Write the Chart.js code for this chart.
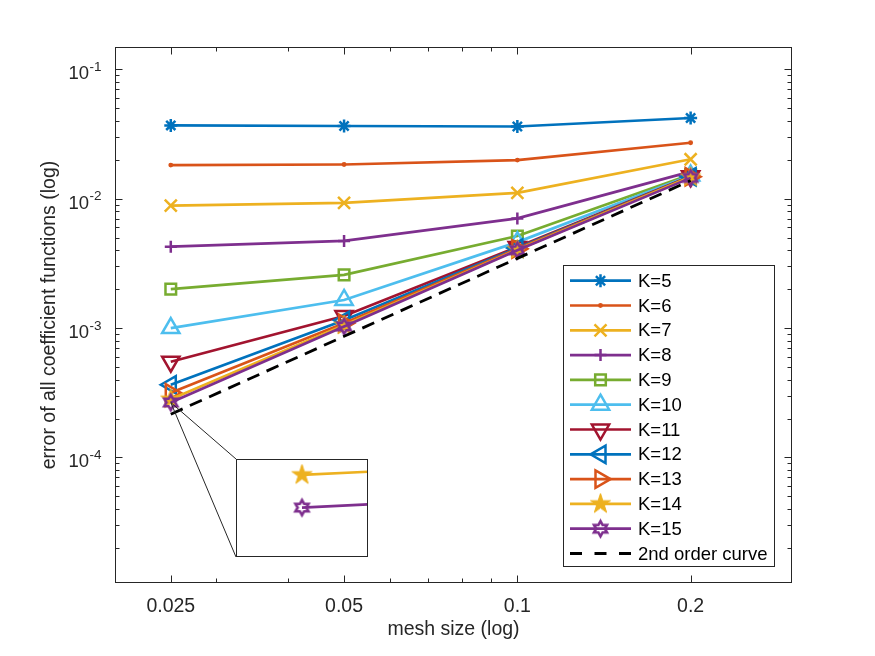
<!DOCTYPE html>
<html>
<head>
<meta charset="utf-8">
<script src="https://cdn.jsdelivr.net/npm/chart.js@4.4.1/dist/chart.umd.min.js"></script>
<style>
  body { margin: 0; background: #fff; }
  #wrap { position: relative; width: 875px; height: 656px; }
  #main { position: absolute; left: 0; top: 0; }
  #inset { position: absolute; }
</style>
</head>
<body>
<div id="wrap">
  <canvas id="main" width="875" height="656"></canvas>
  <canvas id="inset" width="132" height="98"></canvas>
</div>
<script>
// mesh sizes (x) and errors per K (y)
const meshSizes = [0.025, 0.05, 0.1, 0.2];
const errK5  = [0.0369, 0.0365, 0.0362, 0.0421];
const errK6  = [0.0182, 0.0184, 0.0199, 0.0271];
const errK7  = [0.00885, 0.00929, 0.0111, 0.0202];
const errK8  = [0.00426, 0.00472, 0.00705, 0.0162];
const errK9  = [0.00200, 0.00258, 0.00515, 0.0154];
const errK10 = [0.00100, 0.00165, 0.00462, 0.0151];
const errK11 = [0.00055, 0.00124, 0.00424, 0.0149];
const errK12 = [0.000365, 0.00115, 0.00416, 0.0148];
const errK13 = [0.000316, 0.00109, 0.00410, 0.0148];
const errK14 = [0.000282, 0.00105, 0.00404, 0.0147];
const errK15 = [0.000266, 0.00103, 0.00400, 0.0145];
const secondOrder = [0.000216, 0.000864, 0.00346, 0.01382];

const xTickLabels = [0.025, 0.05, 0.1, 0.2];
const xMinorTicks = [0.03, 0.04, 0.06, 0.07, 0.08, 0.09];
const yTickExponents = [-4, -3, -2, -1];

const FONT = "'Liberation Sans', Arial, Helvetica, sans-serif";
const AXIS = '#262626';
const insetBox = { left: 236, top: 459, width: 132, height: 98 };

// pentagram / hexagram markers (not built into Chart.js)
function starMarker(n, outer, inner, color, filled, lw) {
  const s = Math.ceil(2 * outer + 6);
  const c = document.createElement('canvas');
  c.width = s; c.height = s;
  const g = c.getContext('2d');
  g.beginPath();
  for (let i = 0; i < 2 * n; i++) {
    const r = i % 2 ? inner : outer;
    const a = -Math.PI / 2 + i * Math.PI / n;
    const px = s / 2 + r * Math.cos(a), py = s / 2 + r * Math.sin(a);
    if (i) g.lineTo(px, py); else g.moveTo(px, py);
  }
  g.closePath();
  if (filled) { g.fillStyle = color; g.fill(); }
  g.strokeStyle = color;
  g.lineWidth = lw;
  g.stroke();
  return c;
}

const pentagram = starMarker(5, 10.5, 4.0, '#EDB120', true, 1);
const hexagram = starMarker(6, 7.5, 4.3, '#7E2F8E', false, 2.6);

function series(label, data, color, style, radius, rotation) {
  return {
    label: label,
    data: data,
    borderColor: color,
    borderWidth: 2.7,
    pointStyle: style,
    pointRadius: radius,
    pointRotation: rotation || 0,
    pointBorderColor: color,
    pointBackgroundColor: style === 'circle' ? color : 'rgba(0,0,0,0)',
    pointBorderWidth: 2.5,
    fill: false
  };
}

const datasets = [
  series('K=5', errK5, '#0072BD', 'star', 6.5),
  series('K=6', errK6, '#D95319', 'circle', 1.2),
  series('K=7', errK7, '#EDB120', 'crossRot', 8.5),
  series('K=8', errK8, '#7E2F8E', 'cross', 6),
  series('K=9', errK9, '#77AC30', 'rect', 7.5),
  series('K=10', errK10, '#4DBEEE', 'triangle', 10),
  series('K=11', errK11, '#A2142F', 'triangle', 10, 180),
  series('K=12', errK12, '#0072BD', 'triangle', 10, 270),
  series('K=13', errK13, '#D95319', 'triangle', 10, 90),
  series('K=14', errK14, '#EDB120', pentagram, 10),
  series('K=15', errK15, '#7E2F8E', hexagram, 8),
  {
    label: '2nd order curve',
    data: secondOrder,
    borderColor: '#000',
    borderWidth: 2.8,
    borderDash: [13, 8],
    pointRadius: 0,
    fill: false
  }
];
// MATLAB draws later lines on top
datasets.forEach((d, i) => { d.order = datasets.length - i; });

function line(ctx, x1, y1, x2, y2) {
  ctx.beginPath(); ctx.moveTo(x1, y1); ctx.lineTo(x2, y2); ctx.stroke();
}

const axesBox = {
  id: 'axesBox',
  beforeDatasetsDraw(chart) {
    const ctx = chart.ctx, a = chart.chartArea;
    const xs = chart.scales.x, ys = chart.scales.y;
    const L = Math.round(a.left) + 0.5, R = Math.round(a.right) - 0.5;
    const T = Math.round(a.top) + 0.5, B = Math.round(a.bottom) - 0.5;
    ctx.save();
    ctx.strokeStyle = AXIS;
    ctx.lineWidth = 1;
    ctx.strokeRect(L, T, R - L, B - T);

    const xt = (v, len) => {
      const p = Math.round(xs.getPixelForValue(v)) + 0.5;
      line(ctx, p, B, p, B - len);
      line(ctx, p, T, p, T + len);
    };
    xTickLabels.forEach(v => xt(v, 7));
    xMinorTicks.forEach(v => xt(v, 4));

    const yt = (v, len) => {
      const p = Math.round(ys.getPixelForValue(v)) + 0.5;
      line(ctx, L, p, L + len, p);
      line(ctx, R, p, R - len, p);
    };
    for (let e = -5; e <= -1; e++) {
      for (let m = 1; m <= 9; m++) {
        const v = m * Math.pow(10, e);
        if (v < ys.min || v > ys.max) continue;
        yt(v, m === 1 ? 7 : 4);
      }
    }

    // y tick labels 10^e
    ctx.fillStyle = AXIS;
    ctx.textBaseline = 'alphabetic';
    yTickExponents.forEach(e => {
      const p = ys.getPixelForValue(Math.pow(10, e));
      ctx.font = '18.5px ' + FONT;
      ctx.textAlign = 'right';
      ctx.fillText('10', 89, p + 10);
      ctx.font = '13.5px ' + FONT;
      ctx.textAlign = 'left';
      ctx.fillText(String(e), 89.5, p + 1.5);
    });
    ctx.restore();
  },
  afterDraw(chart) {
    const ctx = chart.ctx;
    const xs = chart.scales.x, ys = chart.scales.y;
    ctx.save();

    // connectors to the zoom inset
    const px = xs.getPixelForValue(meshSizes[0]);
    const py = ys.getPixelForValue(errK15[0]);
    ctx.strokeStyle = AXIS;
    ctx.lineWidth = 1;
    line(ctx, px, py, insetBox.left, insetBox.top);
    line(ctx, px, py, insetBox.left, insetBox.top + insetBox.height);

    // legend
    const bx = 563.5, by = 265.5, bw = 211, bh = 301;
    ctx.fillStyle = '#fff';
    ctx.fillRect(bx, by, bw, bh);
    ctx.strokeStyle = AXIS;
    ctx.strokeRect(bx, by, bw, bh);
    ctx.font = '18.5px ' + FONT;
    ctx.textAlign = 'left';
    ctx.textBaseline = 'middle';
    chart.data.datasets.forEach((d, i) => {
      const y = 280.7 + i * 24.8;
      ctx.save();
      ctx.strokeStyle = d.borderColor;
      ctx.lineWidth = d.borderWidth;
      if (d.borderDash) ctx.setLineDash([12, 12.5]);
      line(ctx, 570, y, 631, y);
      ctx.restore();
      if (d.pointRadius > 0) {
        const ps = d.pointStyle;
        if (ps instanceof HTMLCanvasElement) {
          ctx.drawImage(ps, 600.5 - ps.width / 2, y - ps.height / 2);
        } else {
          ctx.save();
          ctx.strokeStyle = d.pointBorderColor;
          ctx.fillStyle = d.pointBackgroundColor;
          ctx.lineWidth = d.pointBorderWidth;
          Chart.helpers.drawPoint(ctx, {
            pointStyle: ps, rotation: d.pointRotation,
            radius: d.pointRadius, borderWidth: d.pointBorderWidth
          }, 600.5, y);
          ctx.restore();
        }
      }
      ctx.fillStyle = '#000';
      ctx.fillText(d.label, 638, y + 1);
    });
    ctx.restore();
  }
};

new Chart(document.getElementById('main'), {
  type: 'line',
  data: { labels: meshSizes, datasets: datasets.map(d => Object.assign({}, d, {
    data: d.data.map((v, i) => ({ x: meshSizes[i], y: v }))
  })) },
  options: {
    responsive: false,
    animation: false,
    devicePixelRatio: 1,
    layout: { autoPadding: false, padding: { left: 0, top: 47, right: 83, bottom: 0 } },
    plugins: { legend: { display: false }, tooltip: { enabled: false } },
    scales: {
      x: {
        type: 'logarithmic', min: 0.02, max: 0.3,
        afterBuildTicks: s => { s.ticks = xTickLabels.map(v => ({ value: v })); },
        afterFit: s => { s.height = 73; },
        grid: { display: false, drawTicks: false },
        border: { display: false },
        ticks: {
          autoSkip: false, maxRotation: 0, padding: 12,
          color: AXIS, font: { family: FONT, size: 19.5 },
          callback: v => String(v)
        },
        title: {
          display: true, text: 'mesh size (log)', color: AXIS,
          font: { family: FONT, size: 19.5 }, padding: { top: 0, bottom: 15 }
        }
      },
      y: {
        type: 'logarithmic', min: 1.07e-5, max: 0.149,
        afterFit: s => { s.width = 115; },
        grid: { display: false, drawTicks: false },
        border: { display: false },
        ticks: { display: false },
        title: {
          display: true, text: 'error of all coefficient functions (log)', color: AXIS,
          font: { family: FONT, size: 19.5 }, padding: { top: 38, bottom: 0 }
        }
      }
    }
  },
  plugins: [axesBox]
});

// zoom inset around the K=14 / K=15 points at mesh size 0.025
const insetCanvas = document.getElementById('inset');
insetCanvas.style.left = insetBox.left + 'px';
insetCanvas.style.top = insetBox.top + 'px';

const insetFrame = {
  id: 'insetFrame',
  beforeDraw(chart) {
    chart.ctx.fillStyle = '#fff';
    chart.ctx.fillRect(0, 0, chart.width, chart.height);
  },
  afterDraw(chart) {
    const ctx = chart.ctx;
    ctx.strokeStyle = AXIS;
    ctx.lineWidth = 1;
    ctx.strokeRect(0.5, 0.5, chart.width - 1, chart.height - 1);
  }
};

new Chart(insetCanvas, {
  type: 'line',
  data: { datasets: [datasets[9], datasets[10]].map(d => Object.assign({}, d, {
    data: d.data.map((v, i) => ({ x: meshSizes[i], y: v }))
  })) },
  options: {
    responsive: false,
    animation: false,
    devicePixelRatio: 1,
    layout: { autoPadding: false, padding: 0 },
    plugins: { legend: { display: false }, tooltip: { enabled: false } },
    scales: {
      x: { type: 'linear', min: 0.0249681, max: 0.0250319, display: false },
      y: { type: 'linear', min: 2.418e-4, max: 2.898e-4, display: false }
    }
  },
  plugins: [insetFrame]
});
</script>
</body>
</html>
